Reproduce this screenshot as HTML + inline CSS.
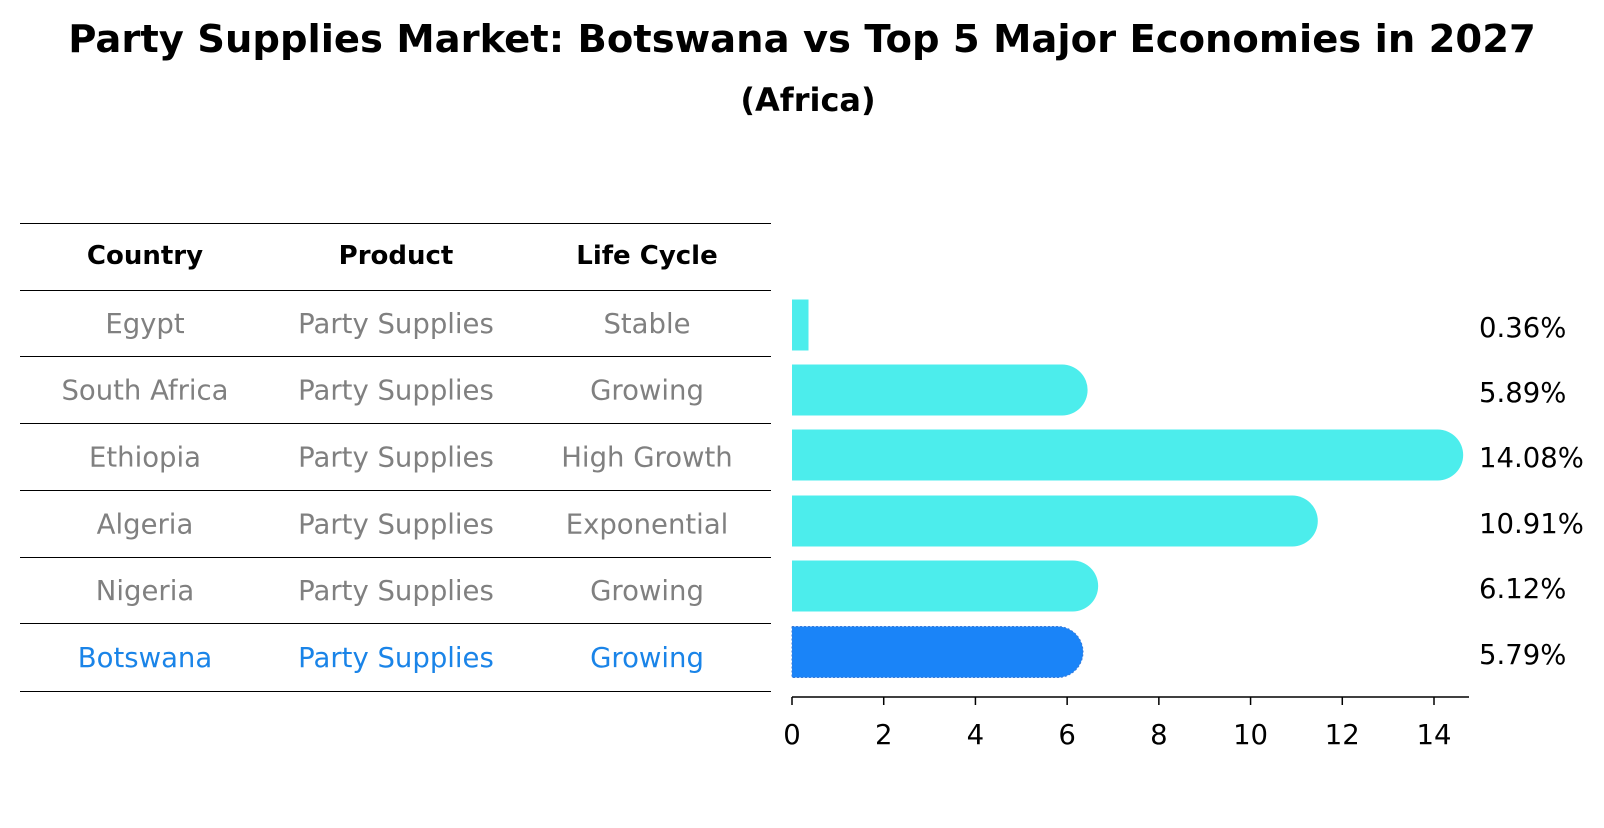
<!DOCTYPE html>
<html><head><meta charset="utf-8"><style>
body{margin:0;background:#fff;}
svg text{font-family:"DejaVu Sans","Liberation Sans",sans-serif;}
</style></head><body>
<svg id="c" width="1604" height="823" xmlns="http://www.w3.org/2000/svg">
<text x="802" y="52" text-anchor="middle" font-size="38.5" font-weight="bold">Party Supplies Market: Botswana vs Top 5 Major Economies in 2027</text>
<text x="808" y="111" text-anchor="middle" font-size="32" font-weight="bold">(Africa)</text>
<g id="tbl"></g>
<g id="bars"></g>
</svg>
<script>
const countries=["Egypt","South Africa","Ethiopia","Algeria","Nigeria","Botswana"];
const products=["Party Supplies","Party Supplies","Party Supplies","Party Supplies","Party Supplies","Party Supplies"];
const stages=["Stable","Growing","High Growth","Exponential","Growing","Growing"];
const values=[0.36,5.89,14.08,10.91,6.12,5.79];
const ticks=[0,2,4,6,8,10,12,14];
const NS="http://www.w3.org/2000/svg";
function mk(t,a,p){const e=document.createElementNS(NS,t);for(const k in a)e.setAttribute(k,a[k]);p.appendChild(e);return e;}
const tbl=document.getElementById('tbl'),bars=document.getElementById('bars');
const lineY=[223,290,356,423,490,557,623,691];
const colX=[145,396,647];
for(const y of lineY){const l=mk('line',{x1:20,x2:771,y1:y+0.5,y2:y+0.5,stroke:'#000','stroke-width':1},tbl);

}
["Country","Product","Life Cycle"].forEach((h,i)=>{const t=mk('text',{x:colX[i],y:264,'text-anchor':'middle','font-size':26,'font-weight':'bold'},tbl);t.textContent=h;

});
const x0=792,ppu=(1434-792)/14;
function X(v){return x0+v*ppu;}
const rowC=[325,390,455,521,586,652];
countries.forEach((c,i)=>{
 const col=i===countries.length-1?'#1a84e8':'#808080';
 [c,products[i],stages[i]].forEach((s,j)=>{const t=mk('text',{x:colX[j],y:(lineY[i+1]+lineY[i+2])/2+10,'text-anchor':'middle','font-size':27.5,fill:col},tbl);t.textContent=s;
 
 });
 const cy=rowC[i],h=51,r=25.5,w=X(values[i])-x0;
 const fill=i===countries.length-1?'#1a84f8':'#4cedec';
 let d;
 if(w<r*2){d=`M${x0},${cy-h/2}h${w}v${h}h${-w}Z`;}
 else d=`M${x0},${cy-h/2}H${x0+w}A${r},${r} 0 0 1 ${x0+w},${cy+h/2}H${x0}Z`;
 const b=mk('path',{d:d,fill:fill},bars);
 if(i===countries.length-1){b.setAttribute('stroke','#3a7ad8');b.setAttribute('stroke-dasharray','2,2');}
 
 
 const t=mk('text',{x:1479,y:cy+12,'font-size':27.5},bars);t.textContent=values[i].toFixed(2)+'%';
 
 
});
const ax=mk('line',{x1:x0,x2:1469,y1:697,y2:697,stroke:'#000','stroke-width':1.5},bars);


ticks.forEach(v=>{const l=mk('line',{x1:X(v),x2:X(v),y1:697,y2:705,stroke:'#000','stroke-width':1.5},bars);
 
 
 const t=mk('text',{x:X(v),y:744,'text-anchor':'middle','font-size':27.5},bars);t.textContent=v;
 
 });
</script>
</body></html>
